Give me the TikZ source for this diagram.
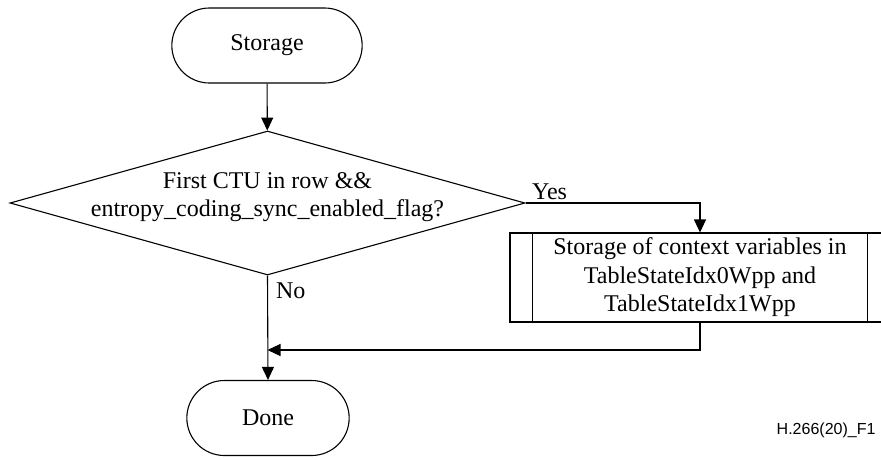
\documentclass[tikz,border=0pt]{standalone}
\usepackage{fontspec}
\setmainfont{Liberation Serif}
\newfontfamily\figfont{Liberation Sans}
\usetikzlibrary{shapes.geometric,shapes.misc,arrows.meta,calc}

\begin{document}
\begin{tikzpicture}[x=1pt,y=-1pt,line width=1.1pt,
	txt/.style={font=\fontsize{24}{28.5}\selectfont},
	term/.style={draw,rounded rectangle,minimum width=169pt,minimum height=75pt,txt},
	decis/.style={draw,diamond,minimum width=515pt,minimum height=144pt,inner sep=0pt},
	proc/.style={draw,rectangle,minimum width=380pt,minimum height=89pt,align=center,txt},
	arr/.style={-{Triangle[length=13pt,width=12pt]}}]
	\useasboundingbox (0,0) rectangle (881,459);
	\node [term, minimum width=197pt] (start) at (267,45.5) {Storage};
	\node [decis] (check) at (267.5,203) {};
	\node [txt, align=center] (checktxt) at (267.5,197) {First CTU in row \&\&\\entropy\_coding\_sync\_enabled\_flag?};
	\node [proc] (ctx) at (700,277.5) {Storage of context variables in\\TableStateIdx0Wpp and\\TableStateIdx1Wpp};
	\draw ($(ctx.north west)+(23,0)$) -- ($(ctx.south west)+(23,0)$);
	\draw ($(ctx.north east)+(-23,0)$) -- ($(ctx.south east)+(-23,0)$);
	\node [term] (done) at (268,418) {Done};
	\coordinate (merge) at (267.5,350);
	\node [txt, anchor=south west, inner sep=2pt] (yes) at ($(check.east)+(4,-1)$) {Yes};
	\node [txt, anchor=north west, inner sep=2pt] (no) at ($(check.south)+(6,5)$) {No};
	\draw[arr] (start) -- (check);
	\draw[arr] (check.east) -| (ctx.north);
	\draw[arr] (check.south) -- (done.north);
	\draw[arr] (ctx.south) |- (merge);
	\node [font=\figfont\fontsize{16}{18}\selectfont, anchor=south east, inner sep=0pt] (fig) at (876,438) {H.266(20)\_F1};
\end{tikzpicture}
\end{document}
